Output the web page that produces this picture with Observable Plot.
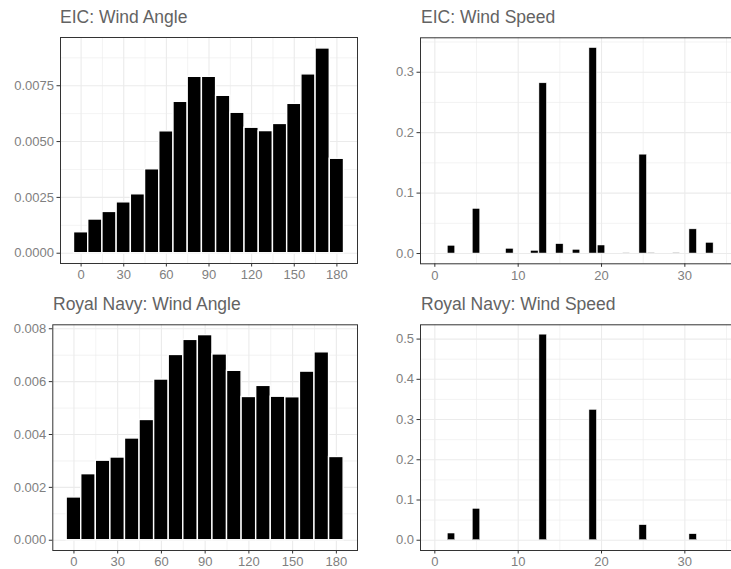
<!DOCTYPE html>
<html>
<head>
<meta charset="utf-8">
<script src="https://cdn.jsdelivr.net/npm/d3@7"></script>
<script src="https://cdn.jsdelivr.net/npm/@observablehq/plot@0.6"></script>
<style>
  html, body { margin: 0; padding: 0; background: #fff; overflow: hidden; width: 731px; height: 569px; }
  #root { position: relative; width: 731px; height: 569px; overflow: hidden; }
  .panel { position: absolute; }
  .panel svg { max-width: none !important; }
  .title { position: absolute; font-family: "Liberation Sans", Arial, sans-serif; font-size: 17.5px; color: #636363; white-space: nowrap; line-height: 1; }
</style>
</head>
<body>
<div id="root"></div>
<script>
// ---- data ----
const angleBins = [0, 10, 20, 30, 40, 50, 60, 70, 80, 90, 100, 110, 120, 130, 140, 150, 160, 170, 180];
const eicAngle = [0.00094, 0.00151, 0.00185, 0.00228, 0.00264, 0.00376, 0.00546, 0.00678, 0.00790, 0.00790, 0.00705, 0.00629, 0.00562, 0.00547, 0.00579, 0.00669, 0.00801, 0.00917, 0.00423];
const navyAngle = [0.00162, 0.00250, 0.00301, 0.00313, 0.00385, 0.00455, 0.00608, 0.00701, 0.00758, 0.00776, 0.00703, 0.00641, 0.00542, 0.00584, 0.00543, 0.00541, 0.00638, 0.00711, 0.00315];

const eicSpeedX = [2, 5, 9, 12, 13, 15, 17, 19, 20, 23, 25, 26, 29, 31, 33];
const eicSpeed = [0.0128, 0.0738, 0.0078, 0.0044, 0.2817, 0.0155, 0.0061, 0.340, 0.0133, 0.0006, 0.1636, 0.0008, 0.0008, 0.040, 0.0177];
const navySpeedX = [2, 5, 13, 19, 25, 31];
const navySpeed = [0.0167, 0.078, 0.511, 0.324, 0.0375, 0.015];

const titles = ["EIC: Wind Angle", "EIC: Wind Speed", "Royal Navy: Wind Angle", "Royal Navy: Wind Speed"];

const angleTicks = [0, 30, 60, 90, 120, 150, 180];
const angleMinor = [15, 45, 75, 105, 135, 165];
const speedTicks = [0, 10, 20, 30];
const speedMinor = [5, 15, 25, 35];
const eicAngleY = [0, 0.0025, 0.005, 0.0075];
const eicAngleYMinor = [0.00125, 0.00375, 0.00625, 0.00875];
const navyAngleY = [0, 0.002, 0.004, 0.006, 0.008];
const navyAngleYMinor = [0.001, 0.003, 0.005, 0.007];
const eicSpeedY = [0, 0.1, 0.2, 0.3];
const eicSpeedYMinor = [0.05, 0.15, 0.25, 0.35];
const navySpeedY = [0, 0.1, 0.2, 0.3, 0.4, 0.5];
const navySpeedYMinor = [0.05, 0.15, 0.25, 0.35, 0.45];

// ---- build ----
const FONT = '"Liberation Sans", Arial, sans-serif';
const GRID = "#ebebeb";
const TICKTEXT = "#808080";

function panel(cfg) {
  const data = cfg.xs.map((x, i) => ({x, v: cfg.vs[i]}));
  const hw = cfg.binWidth / 2;
  const plot = Plot.plot({
    width: cfg.width,
    height: cfg.height,
    marginLeft: cfg.ml, marginRight: cfg.mr, marginTop: cfg.mt, marginBottom: cfg.mb,
    style: {fontFamily: FONT, fontSize: "13px", color: "#333", background: "transparent", overflow: "visible"},
    x: {domain: cfg.xDomain},
    y: {domain: cfg.yDomain},
    marks: [
      Plot.gridX(cfg.xMinor, {stroke: GRID, strokeOpacity: 1, strokeWidth: 0.6}),
      Plot.gridY(cfg.yMinor, {stroke: GRID, strokeOpacity: 1, strokeWidth: 0.6}),
      Plot.gridX(cfg.xGrid, {stroke: GRID, strokeOpacity: 1, strokeWidth: 1.1}),
      Plot.gridY(cfg.yTicks, {stroke: GRID, strokeOpacity: 1, strokeWidth: 1.1}),
      Plot.rectY(data, {x1: d => d.x - hw, x2: d => d.x + hw, y: "v", fill: "black", stroke: cfg.barStroke, strokeWidth: cfg.barStrokeWidth}),
      Plot.frame({stroke: "#333", strokeWidth: 1}),
      Plot.axisX(cfg.xTicks, {tickSize: 3.5, tickPadding: 3, stroke: "#333", fill: TICKTEXT, fontSize: 13, tickFormat: d => String(d), label: null}),
      Plot.axisY(cfg.yTicks, {tickSize: 3.5, tickPadding: 3, stroke: "#333", fill: TICKTEXT, fontSize: 13, tickFormat: d3.format(cfg.yFormat), label: null})
    ]
  });
  plot.style.maxWidth = "none";
  plot.style.width = cfg.width + "px";
  plot.style.height = cfg.height + "px";
  const div = document.createElement("div");
  div.className = "panel";
  div.style.left = cfg.left + "px";
  div.style.top = cfg.top + "px";
  div.style.width = cfg.width + "px";
  div.style.height = cfg.height + "px";
  div.appendChild(plot);
  document.getElementById("root").appendChild(div);

  const t = document.createElement("div");
  t.className = "title";
  t.textContent = cfg.title;
  t.style.left = cfg.titleX + "px";
  t.style.top = cfg.titleY + "px";
  document.getElementById("root").appendChild(t);
}

panel({
  title: titles[0], titleX: 60, titleY: 9,
  left: 0, top: 0, width: 365, height: 285, ml: 60, mr: 8, mt: 37, mb: 22,
  xs: angleBins, vs: eicAngle, binWidth: 10, barStroke: "white", barStrokeWidth: 1.4,
  xDomain: [-14.5, 194.5], yDomain: [-0.00046, 0.00966],
  xTicks: angleTicks, xGrid: angleTicks, xMinor: angleMinor, yTicks: eicAngleY, yMinor: eicAngleYMinor, yFormat: ".4f"
});
panel({
  title: titles[1], titleX: 421, titleY: 9,
  left: 365, top: 0, width: 420, height: 285, ml: 55, mr: 17.3, mt: 37.3, mb: 21.7,
  xs: eicSpeedX, vs: eicSpeed, binWidth: 0.9, barStroke: "white", barStrokeWidth: 0.5,
  xDomain: [-1.72, 40], yDomain: [-0.017, 0.357],
  xTicks: speedTicks, xGrid: speedTicks, xMinor: speedMinor, yTicks: eicSpeedY, yMinor: eicSpeedYMinor, yFormat: ".1f"
});
panel({
  title: titles[2], titleX: 53, titleY: 296,
  left: 0, top: 285, width: 365, height: 284, ml: 52.3, mr: 8, mt: 39.3, mb: 19,
  xs: angleBins, vs: navyAngle, binWidth: 10, barStroke: "white", barStrokeWidth: 1.4,
  xDomain: [-14.5, 194.5], yDomain: [-0.000388, 0.00815],
  xTicks: angleTicks, xGrid: angleTicks, xMinor: angleMinor, yTicks: navyAngleY, yMinor: navyAngleYMinor, yFormat: ".3f"
});
panel({
  title: titles[3], titleX: 421, titleY: 296,
  left: 365, top: 285, width: 420, height: 284, ml: 55, mr: 17.3, mt: 39.3, mb: 19,
  xs: navySpeedX, vs: navySpeed, binWidth: 0.9, barStroke: "white", barStrokeWidth: 0.5,
  xDomain: [-1.72, 40], yDomain: [-0.0255, 0.5355],
  xTicks: speedTicks, xGrid: speedTicks, xMinor: speedMinor, yTicks: navySpeedY, yMinor: navySpeedYMinor, yFormat: ".1f"
});
</script>
</body>
</html>
